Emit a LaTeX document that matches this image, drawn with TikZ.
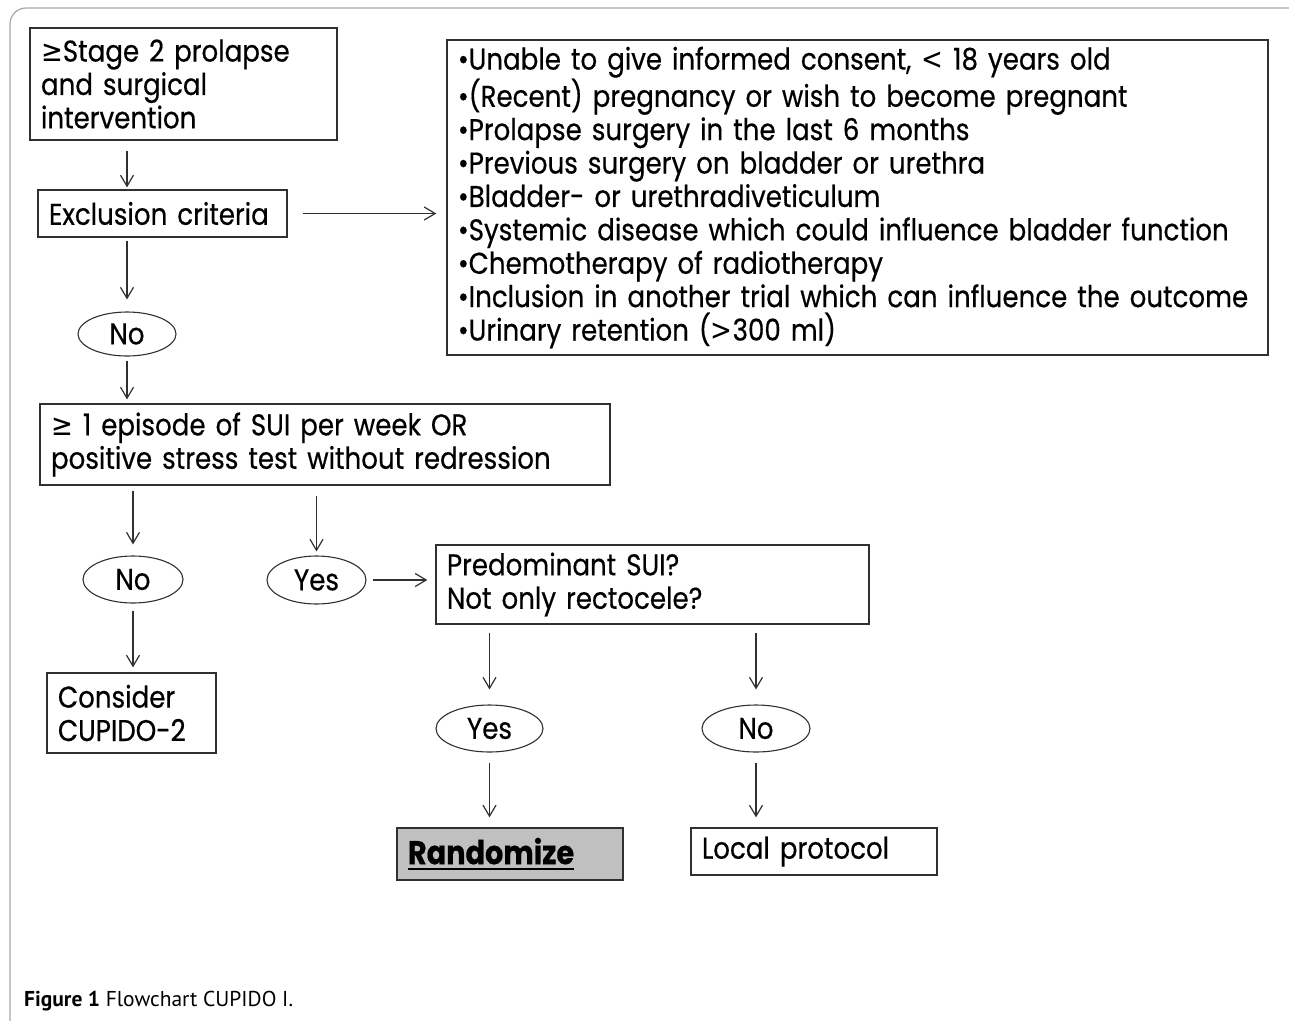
\documentclass[tikz,border=0pt]{standalone}
\usepackage{fontspec}
\setmainfont{Poppins}[FakeStretch=0.87, FakeBold=0.5]
\newfontfamily\symfont{DejaVu Sans}[FakeStretch=0.87]
\newfontfamily\capfont{PT Sans}
\usetikzlibrary{arrows.meta}
\usetikzlibrary{shapes.geometric}
\newcommand{\gesym}{{\symfont ≥}}
\newcommand{\ltsym}{{\symfont <}}
\newcommand{\gtsym}{{\symfont >}}
\newcommand{\thickul}[1]{\setbox0\hbox{#1}\rlap{\copy0}\rule[-6pt]{\wd0}{2.5pt}}
\definecolor{boxgray}{HTML}{C0C0C0}
\definecolor{framegray}{HTML}{A8A8A8}
\definecolor{linegray}{HTML}{303030}

\begin{document}
\begin{tikzpicture}[x = 1pt, y = -1pt]
	\tikzstyle{boxStyle} = [draw = linegray, line width = 1.3pt, align = left, inner xsep = 11pt, inner ysep = 0pt, font = \fontsize{30}{33.4}\selectfont]
	\tikzstyle{choiceStyle} = [draw = linegray, line width = 1.1pt, shape = ellipse, inner sep = 0pt, font = \fontsize{30}{33}\selectfont]
	\tikzstyle{flowStyle} = [draw = linegray, line width = 1.2pt, -{Straight Barb[length = 11pt, width = 13pt]}]
	\useasboundingbox (0,0) rectangle (1289,1020);
	\draw[framegray, line width = 1.2pt, rounded corners = 16pt] (10,8) rectangle (1305,1035);
	\node[boxStyle, minimum width = 307, minimum height = 112, text width = 285] (stage) at (183.5,84) {\gesym Stage 2 prolapse\\and surgical\\intervention};
	\node[boxStyle, minimum width = 249, minimum height = 47, text width = 227] (excl) at (162.5,213.5) {Exclusion criteria};
	\node[boxStyle, minimum width = 821, minimum height = 315, text width = 799] (crit) at (857.5,197.5) {•Unable to give informed consent, \ltsym{} 18 years old\\•(Recent) pregnancy or wish to become pregnant\\•Prolapse surgery in the last 6 months\\•Previous surgery on bladder or urethra\\•Bladder- or urethradiveticulum\\•Systemic disease which could influence bladder function\\•Chemotherapy of radiotherapy\\•Inclusion in another trial which can influence the outcome\\•Urinary retention (\gtsym300 ml)};
	\node[choiceStyle, minimum width = 98, minimum height = 44] (no1) at (127,334) {No};
	\node[boxStyle, minimum width = 570, minimum height = 81, text width = 548] (sui) at (325,444.5) {\gesym{} 1 episode of SUI per week OR\\positive stress test without redression};
	\node[choiceStyle, minimum width = 100, minimum height = 47] (no2) at (133,579.5) {No};
	\node[choiceStyle, minimum width = 99, minimum height = 48] (yes1) at (316.5,580) {Yes};
	\node[boxStyle, minimum width = 433, minimum height = 79, text width = 411] (pred) at (652.5,584.5) {Predominant SUI?\\Not only rectocele?};
	\node[boxStyle, minimum width = 169, minimum height = 80, text width = 147] (cup) at (131.5,713) {Consider\\CUPIDO-2};
	\node[choiceStyle, minimum width = 107, minimum height = 47] (yes2) at (489.5,728.5) {Yes};
	\node[choiceStyle, minimum width = 108, minimum height = 47] (no3) at (756,728.5) {No};
	\node[boxStyle, fill = boxgray, minimum width = 226, minimum height = 52, text width = 204, font = \fontsize{33}{36}\selectfont] (rand) at (510,854) {\bfseries\thickul{Randomize}};
	\node[boxStyle, minimum width = 246, minimum height = 47, text width = 224] (local) at (814,851.5) {Local protocol};
	\draw[flowStyle, shorten <= 10pt, shorten >= 2pt] (stage.south -| no1) -- (excl.north -| no1);
	\draw[flowStyle, shorten <= 15pt, shorten >= 10pt] (excl.east) -- (crit.west |- excl);
	\draw[flowStyle, shorten <= 3pt, shorten >= 12pt] (excl.south -| no1) -- (no1.north);
	\draw[flowStyle, shorten <= 4pt, shorten >= 4pt] (no1.south) -- (sui.north -| no1);
	\draw[flowStyle, shorten <= 5pt, shorten >= 11pt] (sui.south -| no2) -- (no2.north);
	\draw[flowStyle, shorten <= 10pt, shorten >= 4pt] (sui.south -| yes1) -- (yes1.north);
	\draw[flowStyle, shorten <= 6pt, shorten >= 8pt] (yes1.east) -- (pred.west |- yes1);
	\draw[flowStyle, shorten <= 7pt, shorten >= 5pt] (no2.south) -- (cup.north -| no2);
	\draw[flowStyle, shorten <= 8pt, shorten >= 15pt] (pred.south -| yes2) -- (yes2.north);
	\draw[flowStyle, shorten <= 8pt, shorten >= 15pt] (pred.south -| no3) -- (no3.north);
	\draw[flowStyle, shorten <= 10pt, shorten >= 10pt] (yes2.south) -- (rand.north -| yes2);
	\draw[flowStyle, shorten <= 10pt, shorten >= 10pt] (no3.south) -- (local.north -| no3);
	\node[anchor = base west, inner sep = 0pt, font = \capfont\fontsize{21.5}{24}\selectfont] (caption) at (24,1006) {\textbf{Figure 1} Flowchart CUPIDO I.};
\end{tikzpicture}
\end{document}
